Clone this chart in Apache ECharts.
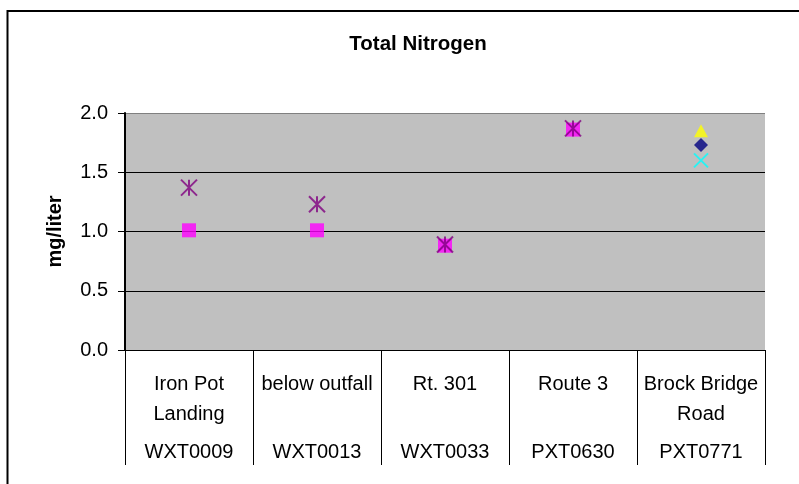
<!DOCTYPE html>
<html>
<head>
<meta charset="utf-8">
<script src="https://cdn.jsdelivr.net/npm/echarts@6/dist/echarts.min.js"></script>
<style>
html,body{margin:0;padding:0;background:#fff;}
#chart{width:799px;height:484px;}
</style>
</head>
<body>
<div id="chart"></div>
<script>
// ---- data ----
var siteNames = ["Iron Pot\nLanding", "below outfall", "Rt. 301", "Route 3", "Brock Bridge\nRoad"];
var siteCodes = ["WXT0009", "WXT0013", "WXT0033", "PXT0630", "PXT0771"];
var yTicks = [0.0, 0.5, 1.0, 1.5, 2.0];
var diamondVals  = [null, null, null, null, 1.73];
var squareVals   = [1.01, 1.01, 0.88, 1.86, null];
var triangleVals = [null, null, null, null, 1.85];
var crossVals    = [null, null, null, null, 1.60];
var starVals     = [1.37, 1.23, 0.89, 1.87, null];

var chart = echarts.init(document.getElementById('chart'), null, {renderer: 'canvas'});
var font = "Liberation Sans, Arial, sans-serif";

function catLabel(value, idx) {
  var parts = siteNames[idx].split("\n");
  var l1 = parts[0];
  var l2 = parts.length > 1 ? parts[1] : " ";
  return "{a|" + l1 + "}\n{a|" + l2 + "}\n{b|" + siteCodes[idx] + "}";
}

var option = {
  animation: false,
  backgroundColor: '#fff',
  title: {
    text: 'Total Nitrogen',
    left: 413, top: 29, textAlign: 'center',
    textStyle: {fontFamily: font, fontSize: 20.5, fontWeight: 'bold', color: '#000'}
  },
  graphic: [{
    type: 'rect', shape: {x: 7.5, y: 11, width: 1000, height: 1000},
    style: {fill: 'none', stroke: '#000', lineWidth: 2}, silent: true, z: 100
  }],
  grid: {left: 125, right: 34, top: 113, bottom: 134, show: true,
         backgroundColor: '#C0C0C0', borderWidth: 0},
  xAxis: {
    type: 'category',
    data: siteNames,
    boundaryGap: true,
    axisLine: {lineStyle: {color: '#000', width: 1}},
    axisTick: {show: true, length: 115, lineStyle: {color: '#000', width: 1}},
    axisLabel: {
      interval: 0, margin: 19, formatter: catLabel,
      rich: {
        a: {fontFamily: font, fontSize: 20, color: '#000', lineHeight: 30, align: 'center'},
        b: {fontFamily: font, fontSize: 20, color: '#000', lineHeight: 47, align: 'center'}
      }
    },
    splitLine: {show: false}
  },
  yAxis: {
    type: 'value', min: 0, max: 2, interval: 0.5,
    name: 'mg/liter', nameLocation: 'middle', nameGap: 60,
    nameTextStyle: {fontFamily: font, fontSize: 20, fontWeight: 'bold', color: '#000'},
    axisLine: {show: true, lineStyle: {color: '#000', width: 2}},
    axisTick: {show: true, length: 7, lineStyle: {color: '#000'}},
    axisLabel: {margin: 17, fontFamily: font, fontSize: 20, color: '#000',
                formatter: function (v) { return v.toFixed(1); }},
    splitLine: {show: true, lineStyle: {color: ['#000', '#000', '#000', '#000', '#808080'], width: 1}}
  },
  series: [
    {name: 'diamond', type: 'scatter', data: diamondVals, symbol: 'diamond', symbolSize: [14, 14],
     itemStyle: {color: '#000080'}},
    {name: 'square', type: 'scatter', data: squareVals, symbol: 'rect', symbolSize: 14,
     itemStyle: {color: '#FF00FF'}},
    {name: 'triangle', type: 'scatter', data: triangleVals, symbol: 'triangle', symbolSize: [14, 13],
     itemStyle: {color: '#FFFF00'}},
    {name: 'cross', type: 'scatter', data: crossVals, symbol: 'path://M0,0L14,14M14,0L0,14', symbolSize: 14,
     itemStyle: {color: 'none', borderColor: '#00FFFF', borderWidth: 2}},
    {name: 'star', type: 'scatter', data: starVals, symbol: 'path://M0,0L16,16M16,0L0,16M8,0L8,16', symbolSize: 16,
     itemStyle: {color: 'none', borderColor: '#800080', borderWidth: 2}}
  ]
};
chart.setOption(option);
</script>
</body>
</html>
